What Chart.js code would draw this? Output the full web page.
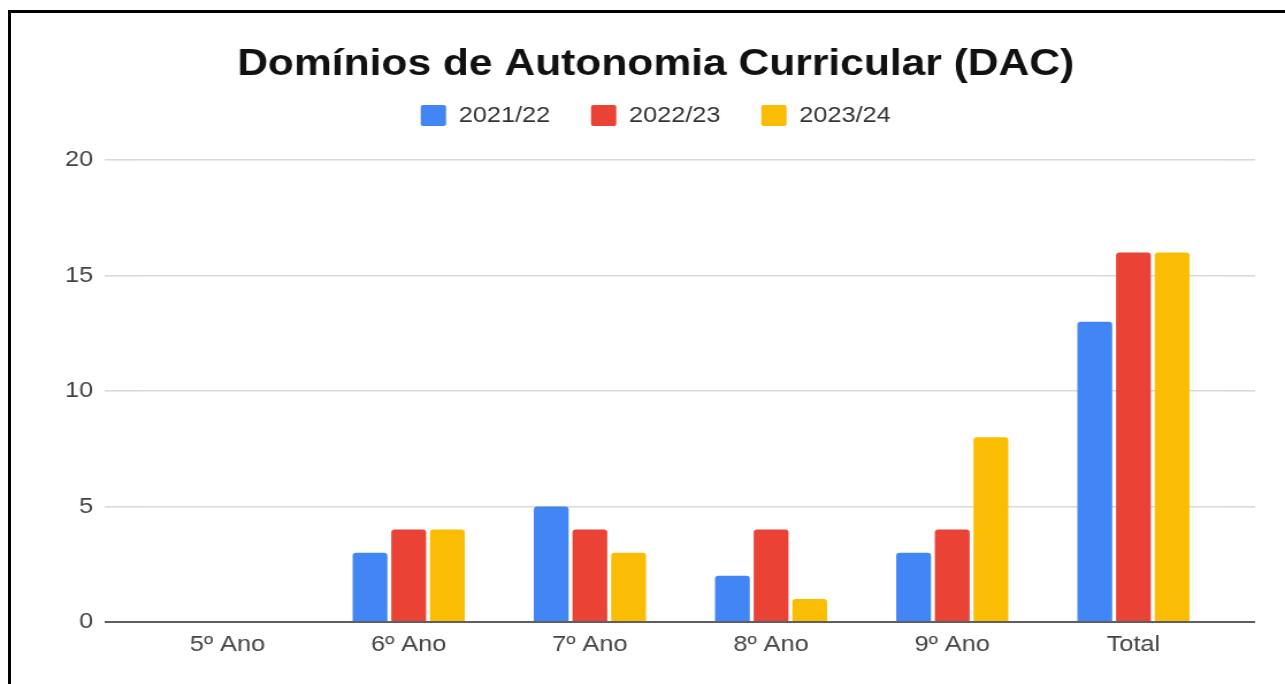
<!DOCTYPE html>
<html>
<head>
<meta charset="utf-8">
<script src="https://cdn.jsdelivr.net/npm/chart.js@4/dist/chart.umd.min.js"></script>
<style>
    body { margin: 0; background: #fff; overflow: hidden; }
    #c { position: absolute; left: 0; top: 0; width: 1285px; height: 684px; display: block; }
    #frame {
        position: absolute; left: 8px; top: 10px; width: 1277px; height: 674px;
        box-sizing: border-box; border-left: 3px solid #000; border-top: 3px solid #000;
        pointer-events: none;
    }
</style>
</head>
<body>
<canvas id="c" width="1117" height="684" style="width:1285px;height:684px"></canvas>
<div id="frame"></div>
<script>
const categories = ['5º Ano', '6º Ano', '7º Ano', '8º Ano', '9º Ano', 'Total'];
const seriesNames = ['2021/22', '2022/23', '2023/24'];
const values2021 = [0, 3, 5, 2, 3, 13];
const values2022 = [0, 4, 4, 4, 4, 16];
const values2023 = [0, 4, 3, 1, 8, 16];
const colors = ['#4285F4', '#EA4335', '#FBBC04'];

const fontFamily = "'Liberation Sans', Arial, sans-serif";

// light grid, dark baseline at zero
const gridColor = function (ctx) {
    return ctx.tick && ctx.tick.value === 0 ? '#5f5f5f' : '#d9d9d9';
};
const gridWidth = function (ctx) {
    return ctx.tick && ctx.tick.value === 0 ? 2 : 1.6;
};

const data = {
    labels: categories,
    datasets: [values2021, values2022, values2023].map(function (vals, i) {
        return {
            label: seriesNames[i],
            data: vals,
            backgroundColor: colors[i],
            borderWidth: 0,
            borderRadius: 3,
            categoryPercentage: 0.64,
            barPercentage: 0.9,
            yAxisID: 'y',
        };
    })
};

new Chart(document.getElementById('c'), {
    type: 'bar',
    data: data,
    options: {
        responsive: false,
        maintainAspectRatio: false,
        devicePixelRatio: 1,
        animation: false,
        layout: { padding: { left: 23, right: 0, top: 0, bottom: 0 } },
        plugins: {
            title: {
                display: true,
                text: 'Domínios de Autonomia Curricular (DAC)',
                color: '#111',
                font: { family: fontFamily, size: 37, weight: 'bold', lineHeight: 1 },
                padding: { top: 46, bottom: -14 },
            },
            legend: {
                position: 'top',
                labels: {
                    color: '#333',
                    font: { family: fontFamily, size: 22 },
                    boxWidth: 22,
                    boxHeight: 21,
                    padding: 35.5,
                    useBorderRadius: true,
                    borderRadius: 2,
                }
            },
            // empty spacer between legend and plot
            subtitle: {
                display: true,
                text: '',
                weight: 500,
                padding: 0,
                font: { size: 23.5, lineHeight: 1 },
            },
            tooltip: { enabled: false },
        },
        scales: {
            x: {
                offset: true,
                grid: { display: false, drawTicks: false },
                border: { display: false },
                ticks: {
                    color: '#444',
                    font: { family: fontFamily, size: 22 },
                    padding: 10,
                },
                afterFit: function (scale) { scale.height = 62; },
            },
            y: {
                position: 'left',
                min: 0,
                max: 20,
                border: { display: false },
                grid: { color: gridColor, lineWidth: gridWidth, tickLength: 28 },
                ticks: {
                    stepSize: 5,
                    color: '#444',
                    font: { family: fontFamily, size: 22 },
                    padding: 10,
                },
                afterFit: function (scale) { scale.width = 96; },
            },
            y2: {
                position: 'right',
                min: 0,
                max: 20,
                border: { display: false },
                grid: { color: gridColor, lineWidth: gridWidth, tickLength: 27, drawOnChartArea: false },
                ticks: { stepSize: 5, display: false },
                afterFit: function (scale) { scale.width = 53; },
            }
        }
    }
});
</script>
</body>
</html>
